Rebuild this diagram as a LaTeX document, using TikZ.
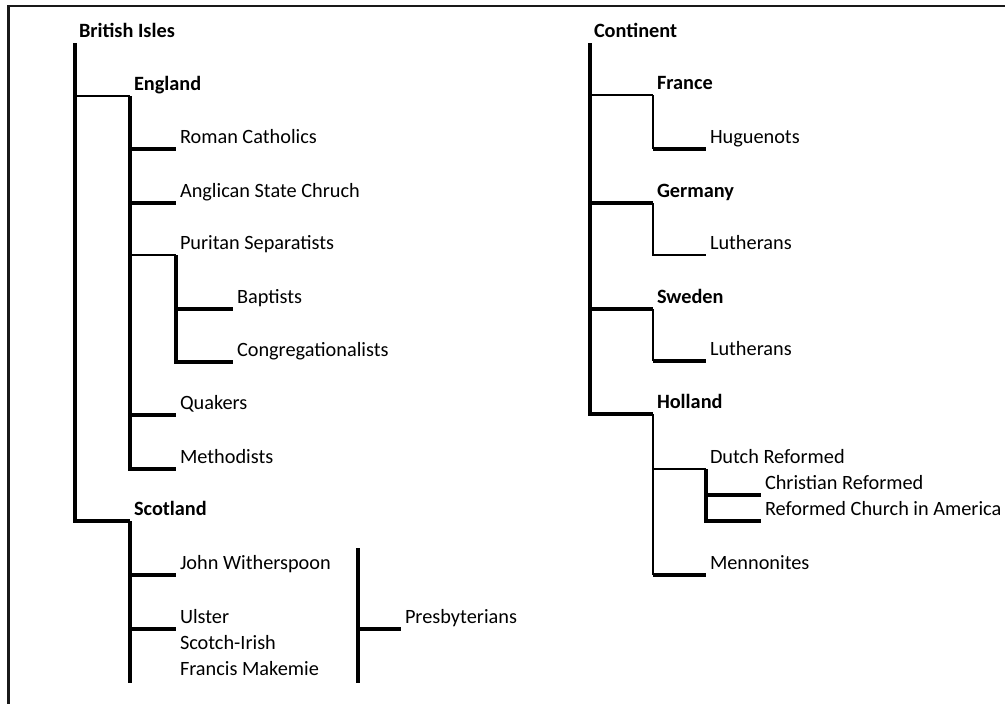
\documentclass[tikz,border=0pt]{standalone}
\usepackage{fontspec}
\setmainfont{Carlito}
\begin{document}
\begin{tikzpicture}[x=1pt,y=-1pt,
  lbl/.style={anchor=base west, inner xsep=4pt, inner ysep=0pt, outer sep=0pt, text depth=6pt, font=\fontsize{20.3}{24}\selectfont, text=black},
  hd/.style={lbl, font=\fontsize{20.3}{24}\selectfont\bfseries},
  thk/.style={line width=3.6pt, black},
  thn/.style={line width=1.8pt, black},
  frame/.style={line width=2.2pt, black!90}]
\useasboundingbox (0,0) rectangle (1005,704);
\draw[frame] (8.5,704) -- (8.5,6) -- (1005,6);
% ---- British Isles
\node[hd]  (bi)    at (75,37)   {British Isles};
\node[hd]  (eng)   at (130,90)  {England};
\node[lbl] (rc)    at (176,143) {Roman Catholics};
\node[lbl] (asc)   at (176,197) {Anglican State Chruch};
\node[lbl] (ps)    at (176,249) {Puritan Separatists};
\node[lbl] (bap)   at (233,303) {Baptists};
\node[lbl] (cong)  at (233,356) {Congregationalists};
\node[lbl] (qk)    at (176,409) {Quakers};
\node[lbl] (meth)  at (176,463) {Methodists};
\node[hd]  (scot)  at (130,515) {Scotland};
\node[lbl] (jw)    at (176,569) {John Witherspoon};
\node[lbl] (uls)   at (176,623) {Ulster};
\node[lbl] (sci)   at (176,649) {Scotch-Irish};
\node[lbl] (fm)    at (176,675) {Francis Makemie};
\node[lbl] (presb) at (401,623) {Presbyterians};
\coordinate (sEnd) at (130,683);
\coordinate (pT) at (358,548);
\coordinate (pB) at (358,683);

\draw[thk] (bi.south west) |- (scot.south west);
\draw[thn] (bi.south west |- eng.south west) -- (eng.south west);
\draw[thk] (eng.south west) |- (meth.south west);
\draw[thk] (eng.south west |- rc.south west) -- (rc.south west);
\draw[thk] (eng.south west |- asc.south west) -- (asc.south west);
\draw[thn] (eng.south west |- ps.south west) -- (ps.south west);
\draw[thk] (ps.south west) |- (cong.south west);
\draw[thk] (ps.south west |- bap.south west) -- (bap.south west);
\draw[thk] (eng.south west |- qk.south west) -- (qk.south west);
\draw[thk] (scot.south west) -- (scot.south west |- sEnd);
\draw[thk] (scot.south west |- jw.south west) -- (jw.south west);
\draw[thk] (scot.south west |- uls.south west) -- (uls.south west);
\draw[thk] (pT) -- (pB);
\draw[thk] (pT |- presb.south west) -- (presb.south west);

% ---- Continent
\node[hd]  (cont) at (590,37)  {Continent};
\node[hd]  (fr)   at (653,89)  {France};
\node[lbl] (hug)  at (706,143) {Huguenots};
\node[hd]  (ger)  at (653,197) {Germany};
\node[lbl] (lu1)  at (706,249) {Lutherans};
\node[hd]  (swe)  at (653,303) {Sweden};
\node[lbl] (lu2)  at (706,355) {Lutherans};
\node[hd]  (hol)  at (653,408) {Holland};
\node[lbl] (dr)   at (706,463) {Dutch Reformed};
\node[lbl] (cr)   at (761,489) {Christian Reformed};
\node[lbl] (rca)  at (761,515) {Reformed Church in America};
\node[lbl] (men)  at (706,569) {Mennonites};

\draw[thk] (cont.south west) |- (hol.south west);
\draw[thn] (cont.south west |- fr.south west) -- (fr.south west);
\draw[thn] (fr.south west) -- (fr.south west |- hug.south west);
\draw[thk] (fr.south west |- hug.south west) -- (hug.south west);
\draw[thk] (cont.south west |- ger.south west) -- (ger.south west);
\draw[thn] (ger.south west) |- (lu1.south west);
\draw[thk] (cont.south west |- swe.south west) -- (swe.south west);
\draw[thn] (swe.south west) -- (swe.south west |- lu2.south west);
\draw[thk] (swe.south west |- lu2.south west) -- (lu2.south west);
\draw[thn] (hol.south west) -- (hol.south west |- men.south west);
\draw[thk] (hol.south west |- men.south west) -- (men.south west);
\draw[thn] (hol.south west |- dr.south west) -- (dr.south west);
\draw[thk] (dr.south west) |- (rca.south west);
\draw[thk] (dr.south west |- cr.south west) -- (cr.south west);
\end{tikzpicture}
\end{document}
